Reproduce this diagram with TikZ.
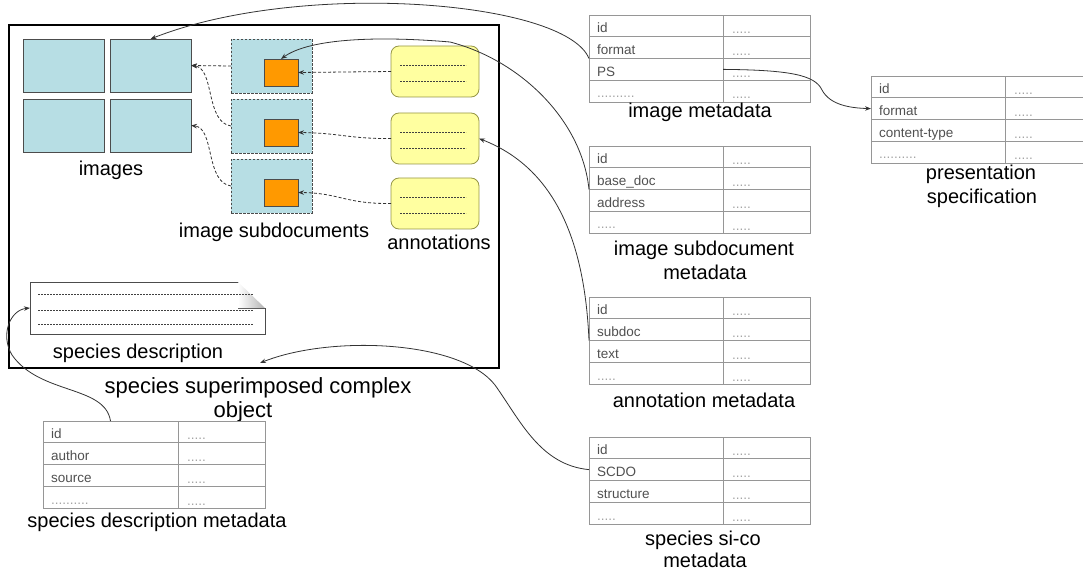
\documentclass[tikz,border=0pt]{standalone}
\usepackage{fontspec}
\setmainfont{Liberation Sans}
\usetikzlibrary{arrows.meta}
\definecolor{imgblue}{RGB}{183,222,228}
\definecolor{orangefill}{RGB}{255,153,0}
\definecolor{annfill}{RGB}{255,255,160}
\definecolor{annborder}{RGB}{150,150,70}
\definecolor{tabline}{RGB}{150,150,150}
\definecolor{tabtext}{RGB}{80,80,80}
\definecolor{dotgray}{RGB}{165,165,165}
\tikzset{
 imgbox/.style={draw=black!70, fill=imgblue, line width=0.8pt, minimum width=81pt, minimum height=53pt, inner sep=0, outer sep=0, anchor=north west},
 subbox/.style={imgbox, dash pattern=on 2.5pt off 1.5pt, minimum height=54pt},
 orbox/.style={draw=black!70, fill=orangefill, line width=0.8pt, minimum width=34pt, minimum height=27pt, inner sep=0, outer sep=0, anchor=north west},
 annbox/.style={draw=annborder, fill=annfill, rounded corners=8pt, line width=0.8pt, minimum width=88pt, minimum height=51pt, inner sep=0, outer sep=0, anchor=north west},
 lbl/.style={font=\fontsize{20}{24}\selectfont, anchor=base, inner sep=0},
 biglbl/.style={font=\fontsize{22}{26}\selectfont, anchor=base, inner sep=0},
 cellA/.style={draw=tabline, line width=0.7pt, inner sep=0, outer sep=0, minimum height=21.75pt, anchor=north west},
 celltxt/.style={font=\fontsize{13.5}{16}\selectfont, text=tabtext, anchor=base west, inner sep=0},
 dotstxt/.style={font=\fontsize{13.5}{16}\selectfont, text=dotgray, anchor=base west, inner sep=0},
 link/.style={draw=black!80, line width=0.8pt, -{Stealth[length=6pt,width=4.5pt]}},
 dlink/.style={link, dash pattern=on 3pt off 2pt},
 txtline/.style={draw=black!75, line width=0.5pt, dash pattern=on 2pt off 1pt},
}
\newcommand\mdtab[9]{%
 \foreach \i/\t in {1/{#6},2/{#7},3/{#8},4/{#9}}{%
   \node[cellA, minimum width=#4pt] (#1-\i) at (#2, {#3+(\i-1)*21.75}) {};
   \node[cellA, minimum width=#5pt] (#1-\i-b) at (#1-\i.north east) {};
   \node[celltxt] at ([xshift=8pt, yshift=4pt]#1-\i.south west) {\t};
   \node[dotstxt] at ([xshift=9pt, yshift=3pt]#1-\i-b.south west) {.....};
 }}
\begin{document}
\begin{tikzpicture}[x=1pt,y=-1pt]
\useasboundingbox (0,0) rectangle (1083,577);
% frame
\node[draw, line width=1.5pt, minimum width=490pt, minimum height=343pt, anchor=north west, inner sep=0, outer sep=0] (frame) at (9,25) {};
% images
\node[imgbox] (im1) at (23,39) {};
\node[imgbox] (im2) at (110,39) {};
\node[imgbox] (im3) at (23,99) {};
\node[imgbox] (im4) at (110,99) {};
% subdocuments
\node[subbox] (sd1) at (231,39) {};
\node[subbox] (sd2) at (231,99) {};
\node[subbox] (sd3) at (231,159) {};
\node[orbox] (or1) at (264,59) {};
\node[orbox] (or2) at (264,119) {};
\node[orbox] (or3) at (264,179) {};
% annotations
\node[annbox] (an1) at (391,46) {};
\node[annbox] (an2) at (391,113) {};
\node[annbox] (an3) at (391,178) {};
\foreach \a in {an1,an2,an3}{
  \draw[txtline] ([xshift=9pt,yshift=-19pt]\a.north west) -- ([xshift=75pt,yshift=-19pt]\a.north west);
  \draw[txtline] ([xshift=9pt,yshift=-35pt]\a.north west) -- ([xshift=75pt,yshift=-35pt]\a.north west);
}
% species description document
\node[minimum width=235pt, minimum height=52pt, inner sep=0, outer sep=0, anchor=north west] (spdoc) at (30,282) {};
\draw[black!70, line width=0.8pt, fill=white] (30,282) -- (238,282) -- (238,308) -- (265,308) -- (265,334) -- (30,334) -- cycle;
\shade[left color=white, right color=black!30] (238,282) -- (265,308) -- (238,308) -- cycle;
\draw[txtline] (38,294) -- (253,294);
\draw[txtline] (38,310) -- (253,310);
\draw[txtline] (38,324) -- (253,324);
% labels
\node[lbl] at (111,176) {images};
\node[lbl] at (274,237) {image subdocuments};
\node[lbl] at (439,249) {annotations};
\node[lbl] at (138,358) {species description};
\node[biglbl] at (258,393) {species superimposed complex};
\node[biglbl] at (243,417) {object};
% tables
\mdtab{imgmeta}{589}{15}{134}{87}{id}{format}{PS}{\textcolor{dotgray}{..........}}
\mdtab{present}{871}{76}{134}{87}{id}{format}{content-type}{\textcolor{dotgray}{..........}}
\mdtab{subdocmeta}{589}{146}{134}{87}{id}{base\_doc}{address}{\textcolor{dotgray}{.....}}
\mdtab{annmeta}{589}{297}{134}{87}{id}{subdoc}{text}{\textcolor{dotgray}{.....}}
\mdtab{sicometa}{589}{437}{134}{87}{id}{SCDO}{structure}{\textcolor{dotgray}{.....}}
\mdtab{spdescmeta}{43}{421}{135}{87}{id}{author}{source}{\textcolor{dotgray}{..........}}
\node[lbl] at (700,118) {image metadata};
\node[lbl] at (981,180) {presentation};
\node[lbl] at (982,204) {specification};
\node[lbl] at (704,255) {image subdocument};
\node[lbl] at (705,279) {metadata};
\node[lbl] at (704,407) {annotation metadata};
\node[lbl] at (703,545) {species si-co};
\node[lbl] at (705,567) {metadata};
\node[lbl] at (157,527) {species description metadata};
% dashed links
\draw[dlink] (sd1.west) -- (im2.east);
\draw[dlink] (sd2.west) .. controls (205,122) and (215,68) .. (im2.east);
\draw[dlink] (sd3.west) .. controls (205,182) and (215,128) .. (im4.east);
\draw[dlink] (an1.west) -- (or1.east);
\draw[dlink] (an2.west) .. controls (350,139) and (340,133) .. (or2.east);
\draw[dlink] (an3.west) .. controls (345,204) and (340,193) .. (or3.east);
% metadata links
\coordinate (scdotip) at (260,363);
\draw[link] (imgmeta-2.south west) .. controls (565,0) and (300,-20) .. (im2.north);
\draw[link] (subdocmeta-2.south west) .. controls (582,120) and (520,60) .. (450,42) .. controls (380,36) and (310,38) .. (or1.north);
\draw[link] (annmeta-2.south west) .. controls (585,250) and (560,170) .. (an2.east);
\draw[link] (imgmeta-3.east) .. controls (790,70) and (815,75) .. (822,90) .. controls (830,105) and (850,108) .. (present-2.west);
\draw[link] (sicometa-2.west) .. controls (540,465) and (520,420) .. (495,385) .. controls (460,340) and (330,335) .. (scdotip);
\draw[link] (spdescmeta-1.north) .. controls (105,385) and (40,395) .. (12,355) .. controls (0,335) and (10,310) .. (spdoc.west);
\end{tikzpicture}
\end{document}
